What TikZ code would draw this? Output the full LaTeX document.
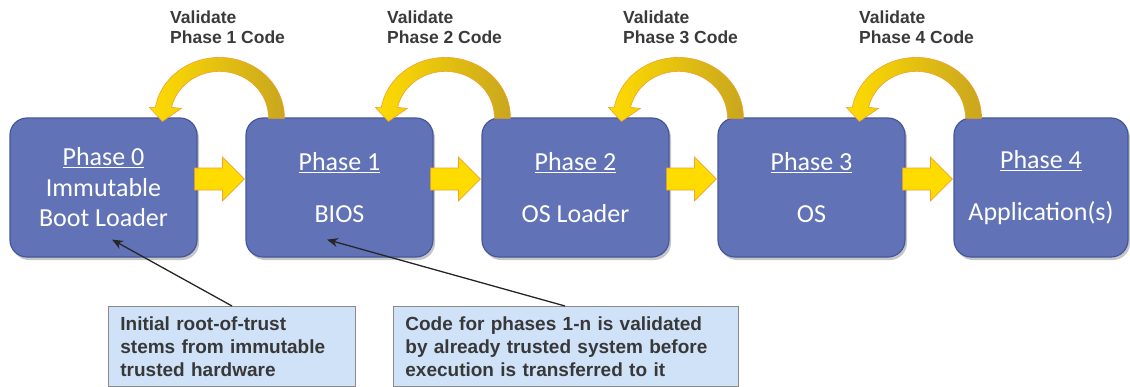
\documentclass[tikz,border=0pt]{standalone}
\usepackage{fontspec}
\setmainfont{Liberation Sans}
\newfontfamily\calib{Carlito}
\usetikzlibrary{shadows,calc,arrows.meta}
\definecolor{boxblue}{HTML}{6173B6}
\definecolor{boxborder}{HTML}{46569A}
\definecolor{yel}{HTML}{FFDC00}
\definecolor{yelmid}{HTML}{F2CC0C}
\definecolor{gold}{HTML}{C9A61E}
\definecolor{orangeedge}{HTML}{F2A030}
\definecolor{labelgray}{HTML}{3A3A3A}
\definecolor{notefill}{HTML}{CFE2F8}
\definecolor{noteborder}{HTML}{8A8A8A}
\definecolor{notetext}{HTML}{383838}
\tikzset{
  phasebox/.style={draw=boxborder, line width=1.2pt, fill=boxblue, rounded corners=17pt,
    minimum height=139pt, text=white, align=center, inner sep=0pt,
    font=\calib\fontsize{26}{30.5}\selectfont,
    drop shadow={opacity=0.45, shadow xshift=2pt, shadow yshift=-3pt}},
  vlabel/.style={anchor=north west, inner sep=0pt, align=left, text=labelgray,
    font=\bfseries\fontsize{17.5}{20}\selectfont},
  notebox/.style={anchor=north west, draw=noteborder, line width=0.8pt, fill=notefill,
    align=left, inner xsep=12pt, inner ysep=10pt, text=notetext,
    font=\bfseries\fontsize{19}{23}\selectfont},
  yarrowstyle/.style={fill=yel, draw=orangeedge, line width=0.7pt, line join=miter},
  carrowstyle/.style={left color=yel, middle color=yelmid, right color=gold,
    draw=orangeedge, line width=0.6pt},
  pointer/.style={draw=black!85, line width=1.3pt, -{Stealth[length=11pt,width=9pt]}}
}
\newcommand\yarr[2]{%
  \path[yarrowstyle] let \p1=(#1.east), \p2=(#2.west) in
    (\x1-3pt,\y1+19.5pt) -- (\x2-23pt,\y1+19.5pt) -- (\x2-23pt,\y1+30.5pt)
    -- (\x2-1pt,\y1+8.5pt) -- (\x2-23pt,\y1-13.5pt) -- (\x2-23pt,\y1-2.5pt)
    -- (\x1-3pt,\y1-2.5pt) -- cycle;}
\newcommand\carr[2]{%
  \path[carrowstyle] let \p1=(#1.north west) in
    (\x1+#2pt+65pt,\y1-1pt)
    -- plot[variable=\t, domain=0:170.4, samples=45]
         ({\x1+#2pt+65pt*cos(\t)},{\y1+60pt*sin(\t)})
    -- (\x1+#2pt-70pt,\y1+10pt) -- (\x1+#2pt-57pt,\y1-4pt) -- (\x1+#2pt-38pt,\y1+9pt)
    -- plot[variable=\t, domain=167.4:0, samples=45]
         ({\x1+#2pt+49pt*cos(\t)},{\y1+46pt*sin(\t)})
    -- (\x1+#2pt+49pt,\y1-1pt) -- cycle;}
\begin{document}
\begin{tikzpicture}[x=1pt,y=1pt]
\useasboundingbox (0,0) rectangle (1130,-386);
% phase boxes
\node[phasebox, minimum width=187pt] (b0) at (103.5,-187.5)
  {\underline{Phase 0}\\Immutable\\Boot Loader};
\node[phasebox, minimum width=187pt] (b1) at (339.5,-187.5)
  {\underline{Phase 1}\\[22pt]BIOS};
\node[phasebox, minimum width=187pt] (b2) at (575.5,-187.5)
  {\underline{Phase 2}\\[22pt]OS Loader};
\node[phasebox, minimum width=187pt] (b3) at (811.5,-187.5)
  {\underline{Phase 3}\\[22pt]OS};
\node[phasebox, minimum width=174pt] (b4) at (1041,-187.5)
  {\underline{Phase 4}\\[22pt]Application(s)};
% straight block arrows
\yarr{b0}{b1}
\yarr{b1}{b2}
\yarr{b2}{b3}
\yarr{b3}{b4}
% curved validation arrows
\carr{b1}{-26}
\carr{b2}{-36}
\carr{b3}{-39}
\carr{b4}{-37}
% labels
\node[vlabel] (v1) at (170,-11) {Validate\\Phase 1 Code};
\node[vlabel] (v2) at (387,-11) {Validate\\Phase 2 Code};
\node[vlabel] (v3) at (623,-11) {Validate\\Phase 3 Code};
\node[vlabel] (v4) at (859,-11) {Validate\\Phase 4 Code};
% notes
\node[notebox, text width=223pt] (na) at (108,-306)
  {Initial root-of-trust\\stems from immutable\\trusted hardware};
\node[notebox, text width=321pt] (nb) at (393,-306)
  {Code for phases 1-n is validated\\by already trusted system before\\execution is transferred to it};
% pointers
\draw[pointer] ([xshift=124pt]na.north west) -- ([shift={(8.5pt,18pt)}]b0.south);
\draw[pointer] ([xshift=172pt]nb.north west) -- ([shift={(-12.5pt,18pt)}]b1.south);
\end{tikzpicture}
\end{document}
